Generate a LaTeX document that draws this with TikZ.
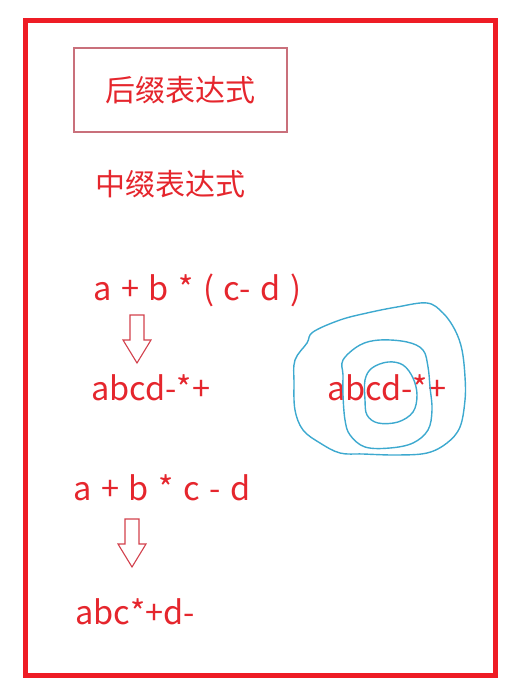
\documentclass[tikz,border=0pt]{standalone}
\usepackage{fontspec}
\setmainfont{Noto Sans CJK SC}
\definecolor{framered}{HTML}{EE1C25}
\definecolor{textred}{HTML}{E5262D}
\definecolor{boxred}{HTML}{C9707B}
\definecolor{arrowred}{HTML}{D2404C}
\definecolor{penblue}{HTML}{3DA9CF}
\newcommand{\widespaces}{\spaceskip=9.6pt plus 1pt\relax}
\begin{document}
\begin{tikzpicture}[x=1pt, y=-1pt,
    label text/.style={text=textred, inner sep=0pt, anchor=west, font=\fontsize{32.5}{36}\selectfont, execute at begin node=\widespaces},
    title text/.style={text=textred, inner sep=0pt, font=\fontsize{30}{34}\selectfont},
    hollow arrow/.pic={\draw[arrowred, line width=1.1pt, line join=miter]
        (-7,0) -- (7,0) -- (7,25) -- (14,25) -- (0,48) -- (-14,25) -- (-7,25) -- cycle;},
    scribble/.style={penblue, line width=1.4pt}]

                \useasboundingbox (0,0) rectangle (515,690);
                \draw[framered, line width=5pt] (25.5,20.5) rectangle (495.5,675.5);

                \node[draw=boxred, line width=1.5pt, minimum width=213, minimum height=84, inner sep=0pt] at (180.5,90) (box) {};
                \node[title text] at (box.center) (post) {后缀表达式};
                \node[title text] at (170,184) (infix) {中缀表达式};

                \node[label text] at (93,290) (e1) {a + b * ( c- d )};
                \node[label text] at (91,388) (r1) {abcd-*+};
                \node[label text] at (327,388) (r2) {abcd-*+};
                \node[label text] at (73,488) (e2) {a + b * c - d};
                \node[label text] at (75,612) (r3) {abc*+d-};

                \pic at (137,315) {hollow arrow};
                \pic at (132,519) {hollow arrow};

                % freehand rings round the right result
                \draw[scribble] plot[smooth cycle, tension=0.6] coordinates {(313,332) (340,320) (367,313) (397,307) (427,303) (443,313) (455,330) (462,350) (465,377) (465,400) (460,427) (447,443) (427,453) (397,455) (363,454) (340,453) (320,443) (303,430) (295,410) (294,383) (295,360) (307,343)};
                \draw[scribble] plot[smooth cycle, tension=0.6] coordinates {(343,360) (360,345) (380,340) (407,342) (423,350) (428,367) (430,387) (432,410) (428,430) (413,443) (390,448) (365,447) (350,435) (345,420) (343,395) (343,375)};
                \draw[scribble] plot[smooth cycle, tension=0.6] coordinates {(365,380) (372,368) (388,362) (403,365) (413,378) (417,395) (413,412) (398,422) (378,423) (367,415) (365,400)};
            \end{tikzpicture}
\end{document}
